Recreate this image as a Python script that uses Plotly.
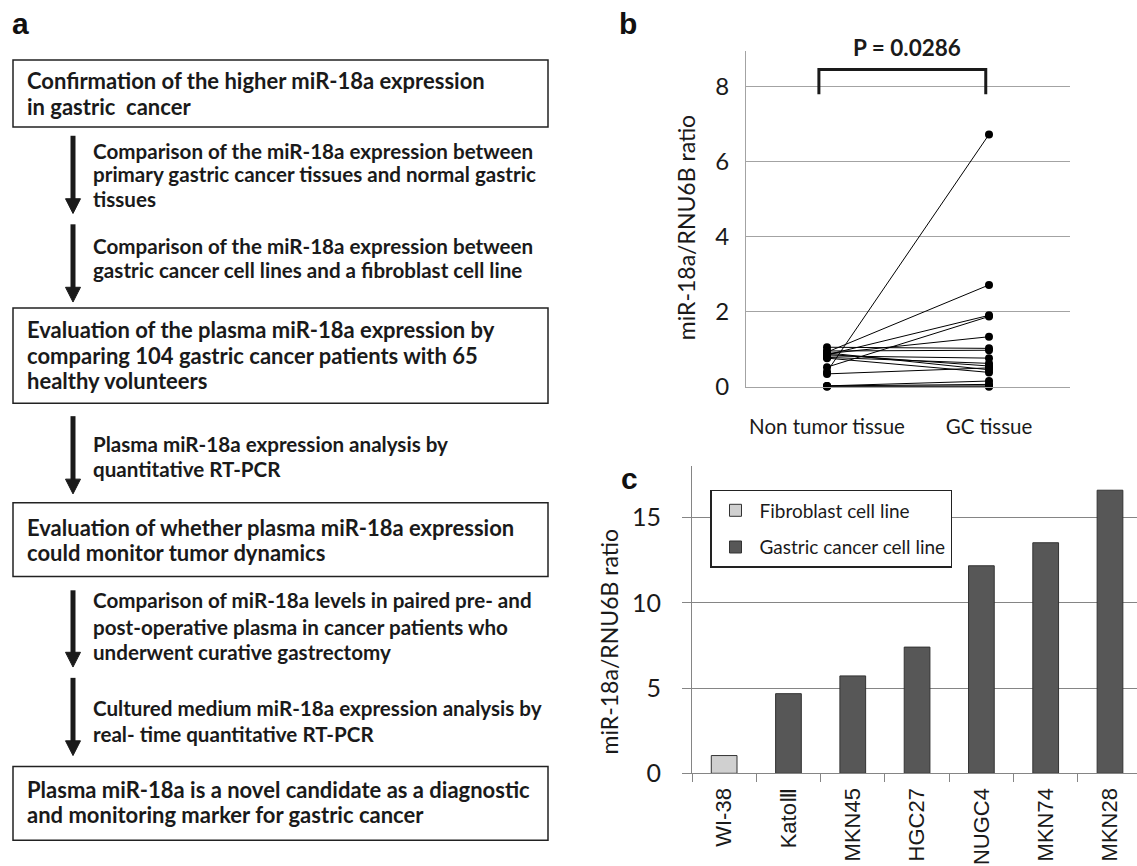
import plotly.graph_objects as go

W, H = 1137, 866

# ---------------- data ----------------
box_texts = [
    "Confirmation of the higher miR-18a expression<br>in gastric  cancer",
    "Evaluation of the plasma miR-18a expression by<br>comparing 104 gastric cancer patients with 65<br>healthy volunteers",
    "Evaluation of whether plasma miR-18a expression<br>could monitor tumor dynamics",
    "Plasma miR-18a is a novel candidate as a diagnostic<br>and monitoring marker for gastric cancer",
]
arrow_texts = [
    "Comparison of the miR-18a expression between<br>primary gastric cancer tissues and normal gastric<br>tissues",
    "Comparison of the miR-18a expression between<br>gastric cancer cell lines and a fibroblast cell line",
    "Plasma miR-18a expression analysis by<br>quantitative RT-PCR",
    "Comparison of miR-18a levels in paired pre- and<br>post-operative plasma in cancer patients who<br>underwent curative gastrectomy",
    "Cultured medium miR-18a expression analysis by<br>real- time quantitative RT-PCR",
]

tissue_groups = ["Non tumor tissue", "GC tissue"]
non_tumor = [0.40, 0.92, 0.85, 0.52, 0.88, 1.05, 0.95, 0.82, 0.90, 0.86, 0.78, 0.34, 0.02, 0.02, 0.01, 0.00, 0.76]
gc_tissue = [6.72, 2.71, 1.90, 1.87, 1.33, 1.02, 0.97, 0.76, 0.45, 0.55, 0.62, 0.50, 0.15, 0.06, 0.02, 0.00, 0.38]
p_value_text = "P = 0.0286"

cell_lines = ["WI-38", "KatoⅢ", "MKN45", "HGC27", "NUGC4", "MKN74", "MKN28"]
cell_values = [1.04, 4.67, 5.71, 7.40, 12.17, 13.52, 16.60]
fibroblast_lines = ["WI-38"]
b_yticks = [0, 2, 4, 6, 8]
c_yticks = [0, 5, 10, 15]

# ---------------- helpers ----------------
def px(x):
    return x / W

def py(y):
    return 1 - y / H

fig = go.Figure()

# ---------------- panel b ----------------
for a, b in zip(non_tumor, gc_tissue):
    fig.add_trace(go.Scatter(
        x=tissue_groups, y=[a, b], mode="lines+markers",
        line=dict(color="black", width=1),
        marker=dict(color="black", size=8),
        showlegend=False, xaxis="x", yaxis="y", cliponaxis=False,
    ))

# ---------------- panel c ----------------
fib_x = [c for c in cell_lines if c in fibroblast_lines]
fib_y = [v for c, v in zip(cell_lines, cell_values) if c in fibroblast_lines]
gas_x = [c for c in cell_lines if c not in fibroblast_lines]
gas_y = [v for c, v in zip(cell_lines, cell_values) if c not in fibroblast_lines]

fig.add_trace(go.Bar(
    x=fib_x, y=fib_y, name="Fibroblast cell line", width=0.4,
    marker=dict(color="#d0d0d0", line=dict(color="#333333", width=1)),
    xaxis="x2", yaxis="y2", legendgroup="f",
))
fig.add_trace(go.Bar(
    x=gas_x, y=gas_y, name="Gastric cancer cell line", width=0.4,
    marker=dict(color="#575757", line=dict(color="#333333", width=1)),
    xaxis="x2", yaxis="y2", legendgroup="g",
))

grid_b = "#a3a3a3"
grid_c = "#858585"

fig.update_layout(
    width=W, height=H,
    margin=dict(l=0, r=0, t=0, b=0),
    paper_bgcolor="white", plot_bgcolor="white",
    font=dict(family="Lato", color="#1a1a1a"),
    barmode="overlay",
    xaxis=dict(
        domain=[px(746), px(1070)], anchor="y",
        type="category", range=[-0.5, 1.5],
        showgrid=False, showline=True, linecolor=grid_b, linewidth=1,
        ticks="", tickfont=dict(family="Lato", size=20.5, color="#1a1a1a"),
        ticklabelstandoff=22, zeroline=False,
    ),
    yaxis=dict(
        domain=[py(393), py(52)], anchor="x",
        range=[0, 8.94], tickvals=b_yticks,
        showgrid=True, gridcolor=grid_b, gridwidth=1,
        showline=True, linecolor=grid_b, linewidth=1,
        ticks="", tickfont=dict(family="Lato", size=24, color="#1a1a1a"),
        ticklabelstandoff=11, zeroline=False,
    ),
    xaxis2=dict(
        domain=[px(692), 1.0], anchor="y2",
        type="category", categoryorder="array", categoryarray=cell_lines,
        range=[-0.5, 6.42],
        showgrid=False, showline=True, linecolor=grid_c, linewidth=1,
        ticks="outside", tickson="boundaries", ticklen=8, tickcolor=grid_c,
        tickangle=-90, tickfont=dict(family="Liberation Sans", size=22, color="#1a1a1a"),
        ticklabelstandoff=5, zeroline=False,
    ),
    yaxis2=dict(
        domain=[py(786), py(474)], anchor="x2",
        range=[0, 18], tickvals=c_yticks,
        showgrid=True, gridcolor=grid_c, gridwidth=1,
        showline=True, linecolor=grid_c, linewidth=1,
        ticks="outside", ticklen=9, tickcolor=grid_c,
        tickfont=dict(family="Lato", size=25, color="#1a1a1a"),
        ticklabelstandoff=16, zeroline=False,
    ),
    legend=dict(
        x=px(710), y=py(498), xanchor="left", yanchor="top",
        bordercolor="#222222", borderwidth=1.5, bgcolor="white",
        font=dict(family="Lato", size=19, color="#1a1a1a"),
        tracegroupgap=9, itemwidth=38,
    ),
)

shapes = []
annotations = []

# ---------------- panel a: flowchart ----------------
box_rows = [(61, 129), (313, 410), (511, 586), (779, 854)]
box_line_y = [[82, 108], [335, 361, 387], [536, 562], [802, 828]]
for (top, bot), txt, ys in zip(box_rows, box_texts, box_line_y):
    shapes.append(dict(type="rect", xref="paper", yref="paper",
                       x0=px(13), x1=px(548), y0=py(bot), y1=py(top),
                       line=dict(color="#222222", width=1.5), fillcolor="white", layer="below"))
    for line, yy in zip(txt.split("<br>"), ys):
        annotations.append(dict(text=line, xref="paper", yref="paper",
                                x=px(25), y=py(yy), xanchor="left", yanchor="middle",
                                align="left", showarrow=False,
                                font=dict(family="Lato", size=22, color="#1a1a1a", weight="bold")))

arrow_rows = [(138, 217), (228, 307), (423, 502), (600, 678), (689, 768)]
arrow_line_y = [[153, 177, 202], [250, 274], [451, 477], [610, 637, 663], [720, 746]]
ax_c = 73
for (top, tip), txt, ys in zip(arrow_rows, arrow_texts, arrow_line_y):
    shapes.append(dict(type="line", xref="paper", yref="paper",
                       x0=px(ax_c), x1=px(ax_c), y0=py(top), y1=py(tip - 12),
                       line=dict(color="#1a1a1a", width=5)))
    path = (f"M {px(ax_c - 7.5)},{py(tip - 15)} L {px(ax_c + 7.5)},{py(tip - 15)} "
            f"L {px(ax_c)},{py(tip)} Z")
    shapes.append(dict(type="path", xref="paper", yref="paper", path=path,
                       fillcolor="#1a1a1a", line=dict(color="#1a1a1a", width=1)))
    for line, yy in zip(txt.split("<br>"), ys):
        annotations.append(dict(text=line, xref="paper", yref="paper",
                                x=px(91), y=py(yy), xanchor="left", yanchor="middle",
                                align="left", showarrow=False,
                                font=dict(family="Lato", size=20.6, color="#1a1a1a", weight="bold")))

# ---------------- panel letters ----------------
for letter, x, y in [("a", 10, 24), ("b", 617, 24), ("c", 619, 486)]:
    annotations.append(dict(text=letter, xref="paper", yref="paper",
                            x=px(x), y=py(y), xanchor="left", yanchor="middle",
                            showarrow=False,
                            font=dict(family="Liberation Sans", size=30, color="#111111", weight="bold")))

# ---------------- panel b extras ----------------
shapes.append(dict(type="path", xref="x", yref="y",
                   path="M -0.05,7.79 L -0.05,8.45 L 0.98,8.45 L 0.98,7.79",
                   line=dict(color="#1a1a1a", width=3)))
annotations.append(dict(text=p_value_text, xref="paper", yref="paper",
                        x=px(907), y=py(48), xanchor="center", yanchor="middle",
                        showarrow=False,
                        font=dict(family="Lato", size=22.5, color="#1a1a1a", weight="bold")))
annotations.append(dict(text="miR-18a/RNU6B ratio", xref="paper", yref="paper",
                        x=px(686), y=py(232), xanchor="center", yanchor="middle",
                        textangle=-90, showarrow=False,
                        font=dict(family="Lato", size=23, color="#1a1a1a")))
annotations.append(dict(text="miR-18a/RNU6B ratio", xref="paper", yref="paper",
                        x=px(609), y=py(653), xanchor="center", yanchor="middle",
                        textangle=-90, showarrow=False,
                        font=dict(family="Lato", size=23, color="#1a1a1a")))

fig.update_layout(shapes=shapes, annotations=annotations)
fig.write_html("out.html")
